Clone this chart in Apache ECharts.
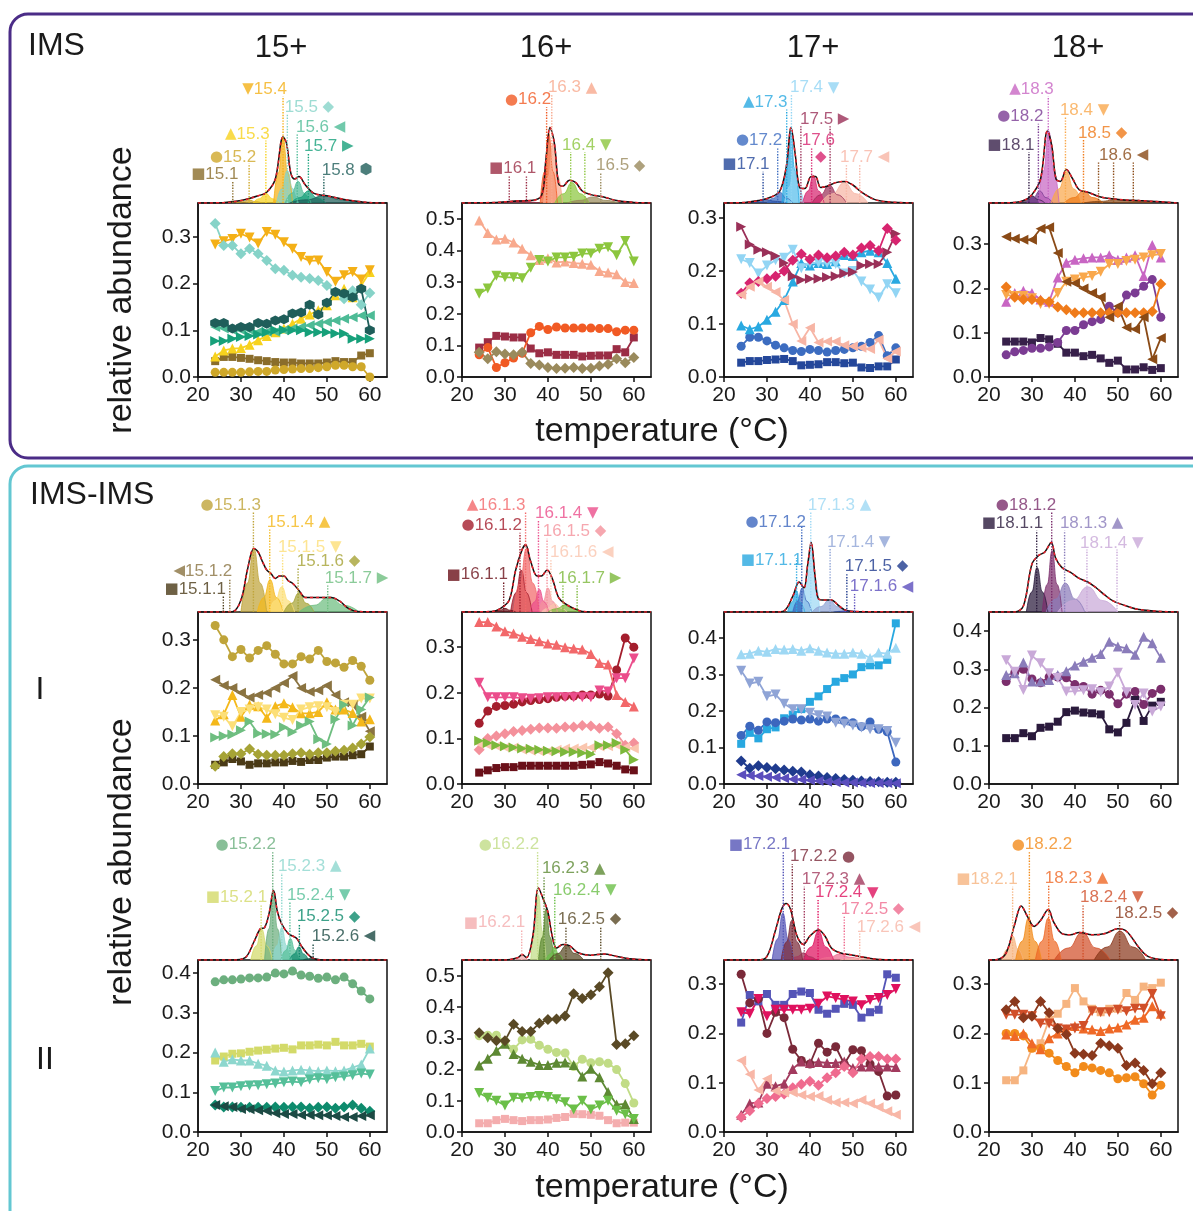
<!DOCTYPE html>
<html><head><meta charset="utf-8">
<script src="https://cdn.jsdelivr.net/npm/echarts@6/dist/echarts.min.js"></script>
<style>html,body{margin:0;padding:0;background:#fff}#c{width:1193px;height:1211px}</style>
</head><body><div id="c"></div>
<script>
// ---------------- DATA ----------------
const temps = [24,26,28,30,32,34,36,38,40,42,44,46,48,50,52,54,56,58,60];

// IMS 15+
const n15 = ['15.1','15.2','15.3','15.4','15.5','15.6','15.7','15.8'];
const v15 = [
 [0.034,0.043,0.043,0.041,0.039,0.036,0.034,0.032,0.031,0.031,0.029,0.029,0.029,0.031,0.034,0.032,0.032,0.046,0.051],
 [0.01,0.01,0.01,0.01,0.011,0.012,0.012,0.015,0.016,0.017,0.018,0.018,0.02,0.022,0.025,0.025,0.022,0.022,0.0],
 [0.044,0.057,0.061,0.062,0.069,0.079,0.088,0.096,0.104,0.114,0.125,0.134,0.143,0.154,0.175,0.189,0.171,0.196,0.225],
 [0.284,0.291,0.296,0.307,0.299,0.286,0.311,0.305,0.289,0.275,0.257,0.249,0.25,0.225,0.204,0.218,0.225,0.209,0.229],
 [0.329,0.282,0.282,0.264,0.275,0.264,0.25,0.232,0.229,0.218,0.214,0.211,0.207,0.196,0.182,0.168,0.185,0.155,0.18],
 [0.107,0.104,0.1,0.1,0.1,0.097,0.097,0.097,0.1,0.104,0.107,0.111,0.114,0.118,0.121,0.125,0.128,0.132,0.132],
 [0.077,0.077,0.082,0.086,0.088,0.091,0.096,0.1,0.101,0.1,0.1,0.096,0.096,0.096,0.093,0.093,0.082,0.082,0.082],
 [0.116,0.116,0.104,0.107,0.107,0.116,0.114,0.121,0.124,0.136,0.138,0.155,0.134,0.159,0.182,0.179,0.171,0.189,0.1]
];
// IMS 16+
const n16 = ['16.1','16.2','16.3','16.4','16.5'];
const v16 = [
 [0.093,0.11,0.13,0.128,0.125,0.125,0.09,0.075,0.078,0.07,0.07,0.07,0.065,0.067,0.068,0.068,0.088,0.078,0.125],
 [0.07,0.093,0.03,0.045,0.06,0.075,0.14,0.16,0.15,0.158,0.155,0.155,0.155,0.155,0.153,0.153,0.143,0.148,0.148],
 [0.495,0.455,0.435,0.437,0.425,0.405,0.385,0.37,0.375,0.362,0.365,0.36,0.358,0.355,0.335,0.33,0.325,0.3,0.297],
 [0.263,0.28,0.32,0.315,0.315,0.312,0.345,0.37,0.365,0.378,0.378,0.38,0.39,0.39,0.405,0.41,0.385,0.43,0.365],
 [0.078,0.058,0.08,0.073,0.07,0.078,0.043,0.038,0.03,0.027,0.028,0.03,0.027,0.028,0.035,0.04,0.058,0.045,0.062]
];
// IMS 17+
const n17 = ['17.1','17.2','17.3','17.4','17.5','17.6','17.7'];
const v17 = [
 [0.027,0.03,0.03,0.032,0.033,0.034,0.03,0.022,0.023,0.024,0.028,0.028,0.026,0.027,0.018,0.017,0.02,0.02,0.033],
 [0.058,0.075,0.075,0.068,0.06,0.055,0.05,0.048,0.052,0.05,0.047,0.05,0.052,0.055,0.058,0.065,0.078,0.04,0.055],
 [0.097,0.09,0.095,0.108,0.123,0.145,0.18,0.215,0.21,0.215,0.213,0.218,0.23,0.228,0.235,0.238,0.235,0.215,0.185],
 [0.222,0.215,0.195,0.21,0.22,0.225,0.24,0.205,0.215,0.215,0.215,0.213,0.195,0.2,0.18,0.165,0.15,0.175,0.158],
 [0.283,0.25,0.24,0.235,0.228,0.215,0.19,0.183,0.185,0.185,0.188,0.19,0.195,0.198,0.21,0.213,0.213,0.235,0.27],
 [0.158,0.177,0.18,0.185,0.19,0.2,0.22,0.232,0.222,0.23,0.225,0.228,0.235,0.23,0.243,0.248,0.238,0.28,0.258],
 [0.155,0.17,0.18,0.17,0.16,0.145,0.1,0.068,0.093,0.065,0.067,0.067,0.06,0.058,0.055,0.053,0.07,0.035,0.048]
];
// IMS 18+
const n18 = ['18.1','18.2','18.3','18.4','18.5','18.6'];
const v18 = [
 [0.08,0.08,0.08,0.078,0.088,0.085,0.075,0.055,0.055,0.047,0.05,0.042,0.032,0.037,0.017,0.017,0.022,0.016,0.02],
 [0.05,0.057,0.06,0.065,0.065,0.068,0.078,0.105,0.105,0.118,0.125,0.13,0.16,0.145,0.185,0.19,0.205,0.22,0.135],
 [0.17,0.19,0.195,0.19,0.175,0.17,0.225,0.258,0.265,0.268,0.27,0.27,0.275,0.265,0.27,0.275,0.228,0.298,0.27],
 [0.185,0.183,0.183,0.178,0.165,0.165,0.19,0.215,0.22,0.225,0.228,0.238,0.255,0.255,0.262,0.265,0.27,0.275,0.278],
 [0.203,0.18,0.175,0.175,0.172,0.17,0.158,0.152,0.145,0.145,0.145,0.145,0.145,0.145,0.145,0.145,0.145,0.148,0.21],
 [0.317,0.312,0.31,0.31,0.335,0.338,0.28,0.215,0.212,0.2,0.19,0.18,0.135,0.16,0.112,0.108,0.135,0.04,0.088]
];
// IMS-IMS I 15+
const n151 = ['15.1.1','15.1.2','15.1.3','15.1.4','15.1.5','15.1.6','15.1.7'];
const v151 = [
 [0.04,0.045,0.052,0.047,0.04,0.043,0.043,0.045,0.045,0.048,0.046,0.05,0.05,0.055,0.057,0.057,0.06,0.062,0.078],
 [0.217,0.205,0.2,0.19,0.18,0.185,0.19,0.2,0.21,0.225,0.2,0.192,0.195,0.205,0.185,0.17,0.165,0.14,0.11],
 [0.33,0.3,0.265,0.28,0.262,0.278,0.288,0.27,0.25,0.25,0.265,0.26,0.278,0.255,0.252,0.243,0.257,0.245,0.216],
 [0.132,0.145,0.185,0.14,0.165,0.162,0.138,0.162,0.168,0.16,0.147,0.147,0.15,0.17,0.155,0.155,0.148,0.13,0.135],
 [0.143,0.14,0.12,0.15,0.155,0.16,0.155,0.145,0.138,0.133,0.155,0.16,0.162,0.16,0.15,0.165,0.165,0.178,0.178],
 [0.037,0.057,0.063,0.063,0.073,0.062,0.06,0.06,0.06,0.063,0.065,0.062,0.065,0.065,0.068,0.07,0.075,0.083,0.098],
 [0.097,0.1,0.103,0.112,0.13,0.105,0.104,0.103,0.118,0.108,0.122,0.13,0.093,0.083,0.135,0.165,0.122,0.155,0.18]
];
// IMS-IMS I 16+
const n161 = ['16.1.1','16.1.2','16.1.3','16.1.4','16.1.5','16.1.6','16.1.7'];
const v161 = [
 [0.025,0.03,0.035,0.037,0.037,0.04,0.04,0.04,0.04,0.04,0.04,0.04,0.042,0.043,0.048,0.045,0.04,0.032,0.03],
 [0.133,0.16,0.17,0.172,0.175,0.18,0.183,0.185,0.187,0.19,0.192,0.193,0.195,0.195,0.197,0.193,0.25,0.32,0.3],
 [0.355,0.355,0.345,0.335,0.33,0.323,0.318,0.313,0.308,0.305,0.3,0.297,0.295,0.285,0.265,0.262,0.195,0.18,0.17],
 [0.222,0.19,0.19,0.19,0.19,0.188,0.187,0.188,0.19,0.19,0.19,0.19,0.19,0.19,0.205,0.203,0.232,0.232,0.275],
 [0.075,0.1,0.105,0.11,0.115,0.117,0.12,0.123,0.123,0.122,0.125,0.125,0.128,0.127,0.122,0.125,0.11,0.085,0.09],
 [0.088,0.085,0.083,0.08,0.08,0.075,0.073,0.072,0.072,0.075,0.078,0.078,0.08,0.08,0.082,0.083,0.085,0.08,0.078],
 [0.095,0.09,0.085,0.083,0.08,0.078,0.077,0.075,0.073,0.072,0.07,0.07,0.068,0.065,0.085,0.085,0.09,0.075,0.053]
];
// IMS-IMS I 17+
const n171 = ['17.1.1','17.1.2','17.1.3','17.1.4','17.1.5','17.1.6'];
const v171 = [
 [0.11,0.14,0.125,0.15,0.155,0.18,0.19,0.205,0.225,0.24,0.26,0.28,0.29,0.3,0.32,0.325,0.325,0.34,0.44],
 [0.133,0.158,0.147,0.17,0.168,0.172,0.178,0.175,0.178,0.172,0.178,0.178,0.173,0.168,0.157,0.17,0.15,0.143,0.06],
 [0.355,0.357,0.365,0.362,0.37,0.368,0.37,0.365,0.372,0.365,0.36,0.357,0.357,0.36,0.357,0.345,0.36,0.357,0.373],
 [0.31,0.275,0.28,0.24,0.245,0.22,0.205,0.205,0.195,0.188,0.185,0.168,0.165,0.16,0.155,0.15,0.15,0.145,0.113],
 [0.063,0.043,0.05,0.045,0.042,0.038,0.035,0.033,0.025,0.022,0.018,0.015,0.012,0.01,0.008,0.007,0.006,0.005,0.005],
 [0.025,0.023,0.022,0.02,0.018,0.016,0.013,0.012,0.01,0.008,0.006,0.005,0.004,0.004,0.003,0.003,0.003,0.003,0.002]
];
// IMS-IMS I 18+
const n181 = ['18.1.1','18.1.2','18.1.3','18.1.4'];
const v181 = [
 [0.12,0.12,0.133,0.125,0.147,0.15,0.163,0.188,0.192,0.187,0.185,0.182,0.143,0.135,0.16,0.22,0.165,0.205,0.215],
 [0.268,0.292,0.3,0.275,0.265,0.28,0.28,0.278,0.26,0.255,0.235,0.245,0.235,0.21,0.235,0.242,0.208,0.237,0.248],
 [0.285,0.29,0.318,0.268,0.268,0.272,0.285,0.295,0.31,0.32,0.33,0.34,0.372,0.36,0.355,0.338,0.385,0.368,0.33],
 [0.324,0.294,0.246,0.336,0.316,0.29,0.277,0.242,0.243,0.245,0.248,0.24,0.255,0.291,0.24,0.207,0.237,0.19,0.203]
];
// IMS-IMS II 15+
const n152 = ['15.2.1','15.2.2','15.2.3','15.2.4','15.2.5','15.2.6'];
const v152 = [
 [0.18,0.19,0.197,0.198,0.202,0.205,0.207,0.21,0.212,0.208,0.218,0.218,0.22,0.218,0.227,0.218,0.218,0.222,0.215],
 [0.378,0.383,0.383,0.385,0.388,0.388,0.39,0.4,0.398,0.405,0.395,0.392,0.387,0.39,0.383,0.39,0.373,0.355,0.335],
 [0.2,0.177,0.183,0.18,0.18,0.172,0.167,0.155,0.152,0.155,0.157,0.155,0.153,0.155,0.153,0.155,0.162,0.17,0.21],
 [0.103,0.112,0.112,0.115,0.117,0.118,0.12,0.122,0.125,0.127,0.125,0.132,0.135,0.133,0.138,0.14,0.143,0.147,0.145],
 [0.068,0.063,0.063,0.062,0.062,0.062,0.062,0.063,0.062,0.063,0.063,0.06,0.062,0.063,0.06,0.063,0.068,0.06,0.052],
 [0.068,0.065,0.063,0.058,0.057,0.055,0.053,0.047,0.045,0.045,0.043,0.043,0.042,0.042,0.04,0.038,0.038,0.04,0.042]
];
// IMS-IMS II 16+
const n162 = ['16.2.1','16.2.2','16.2.3','16.2.4','16.2.5'];
const v162 = [
 [0.028,0.028,0.038,0.042,0.038,0.035,0.038,0.038,0.04,0.045,0.048,0.058,0.057,0.055,0.052,0.038,0.028,0.03,0.03],
 [0.308,0.31,0.31,0.29,0.265,0.295,0.297,0.278,0.265,0.255,0.253,0.21,0.233,0.222,0.225,0.22,0.2,0.155,0.093],
 [0.213,0.235,0.26,0.283,0.25,0.235,0.225,0.215,0.215,0.222,0.223,0.215,0.178,0.203,0.175,0.128,0.088,0.09,0.042],
 [0.125,0.11,0.1,0.085,0.11,0.108,0.112,0.115,0.112,0.105,0.095,0.072,0.1,0.072,0.085,0.1,0.068,0.057,0.042],
 [0.318,0.302,0.292,0.292,0.345,0.322,0.322,0.348,0.36,0.362,0.372,0.443,0.428,0.44,0.465,0.51,0.28,0.283,0.308]
];
// IMS-IMS II 17+
const n172 = ['17.2.1','17.2.2','17.2.3','17.2.4','17.2.5','17.2.6'];
const v172 = [
 [0.222,0.278,0.265,0.28,0.258,0.258,0.28,0.285,0.282,0.248,0.24,0.25,0.26,0.258,0.232,0.243,0.248,0.32,0.313],
 [0.32,0.262,0.27,0.2,0.243,0.232,0.168,0.145,0.138,0.18,0.162,0.173,0.138,0.167,0.165,0.138,0.123,0.073,0.075],
 [0.035,0.058,0.06,0.098,0.093,0.098,0.128,0.143,0.14,0.142,0.14,0.14,0.143,0.13,0.133,0.133,0.133,0.133,0.132],
 [0.243,0.24,0.27,0.235,0.248,0.248,0.248,0.248,0.25,0.26,0.275,0.272,0.268,0.265,0.257,0.268,0.272,0.278,0.29],
 [0.03,0.043,0.058,0.068,0.072,0.077,0.09,0.097,0.103,0.095,0.11,0.12,0.133,0.12,0.148,0.153,0.153,0.148,0.148],
 [0.145,0.117,0.085,0.108,0.083,0.08,0.08,0.075,0.072,0.073,0.065,0.06,0.06,0.058,0.065,0.058,0.05,0.042,0.035]
];
// IMS-IMS II 18+
const n182 = ['18.2.1','18.2.2','18.2.3','18.2.4','18.2.5'];
const v182 = [
 [0.105,0.105,0.125,0.17,0.18,0.228,0.24,0.26,0.292,0.265,0.25,0.243,0.25,0.25,0.282,0.268,0.295,0.292,0.303],
 [0.2,0.2,0.195,0.17,0.17,0.16,0.145,0.133,0.12,0.133,0.13,0.125,0.12,0.108,0.11,0.112,0.098,0.075,0.095],
 [0.198,0.195,0.2,0.18,0.168,0.19,0.2,0.208,0.215,0.21,0.208,0.205,0.21,0.212,0.218,0.228,0.232,0.255,0.24],
 [0.238,0.238,0.238,0.235,0.22,0.22,0.21,0.208,0.21,0.215,0.245,0.243,0.243,0.248,0.245,0.25,0.25,0.28,0.235],
 [0.248,0.265,0.232,0.235,0.265,0.242,0.21,0.198,0.16,0.158,0.155,0.18,0.175,0.17,0.135,0.14,0.125,0.098,0.12]
];

const pk15 = [
 [[25.1,0],[26.6,0.007],[28.1,0.015],[29.6,0.007],[31.1,0]],
 [[28.9,0],[30.4,0.011],[31.9,0.025],[33.4,0.011],[34.9,0]],
 [[32.8,0],[34.3,0.036],[35.8,0.08],[37.3,0.036],[38.8,0]],
 [[37.6,0],[38.7,0.25],[39.8,0.55],[40.9,0.25],[42,0]],
 [[38.3,0],[39.55,0.12],[40.8,0.27],[42.05,0.12],[43.3,0]],
 [[40.3,0],[41.8,0.08],[43.3,0.18],[44.8,0.08],[46.3,0]],
 [[41.7,0],[43.7,0.045],[45.7,0.1],[47.7,0.045],[49.7,0]],
 [[41.3,0],[45.3,0.027],[49.3,0.06],[53.3,0.027],[57.3,0]]
];
const e15 = [[20,0],[26,0.003],[30,0.02],[34,0.06],[36,0.09],[38,0.2],[39.8,0.55],[40.6,0.5],[41.6,0.25],[42.5,0.2],[43.5,0.22],[45,0.15],[47,0.08],[50,0.06],[54,0.03],[58,0.01],[62,0],[64,0]];
const pk16 = [
 [[28,0],[30.5,0.009],[33,0.02],[35.5,0.009],[38,0]],
 [[38.2,0],[39.2,0.26],[40.2,0.58],[41.2,0.26],[42.2,0]],
 [[39,0],[40.1,0.22],[41.2,0.5],[42.3,0.22],[43.4,0]],
 [[41.6,0],[43.6,0.077],[45.6,0.17],[47.6,0.077],[49.6,0]],
 [[44.5,0],[47.5,0.022],[50.5,0.05],[53.5,0.022],[56.5,0]]
];
const e16 = [[20,0],[28,0.005],[32,0.015],[36,0.02],[38.5,0.06],[39.5,0.35],[40.5,0.63],[41.5,0.5],[42.5,0.16],[43.5,0.14],[45,0.19],[46.5,0.17],[48,0.1],[50,0.07],[53,0.05],[56,0.02],[60,0.005],[64,0]];
const pk17 = [
 [[24.5,0],[27,0.014],[29.5,0.03],[32,0.014],[34.5,0]],
 [[30,0],[31.5,0.04],[33,0.09],[34.5,0.04],[36,0]],
 [[33.5,0],[34.5,0.27],[35.5,0.6],[36.5,0.27],[37.5,0]],
 [[34.1,0],[35.2,0.135],[36.3,0.3],[37.4,0.135],[38.5,0]],
 [[40.5,0],[42.5,0.068],[44.5,0.15],[46.5,0.068],[48.5,0]],
 [[38.3,0],[39.55,0.1],[40.8,0.23],[42.05,0.1],[43.3,0]],
 [[42.5,0],[45.25,0.077],[48,0.17],[50.75,0.077],[53.5,0]]
];
const e17 = [[20,0],[25,0.005],[28,0.02],[31,0.05],[33,0.1],[34.5,0.3],[35.6,0.63],[36.6,0.4],[37.6,0.13],[38.8,0.12],[40.3,0.22],[41.3,0.22],[42.5,0.13],[44,0.14],[46,0.17],[48,0.18],[50,0.15],[52,0.09],[55,0.03],[58,0.01],[64,0]];
const pk18 = [
 [[27,0],[28.5,0.027],[30,0.06],[31.5,0.027],[33,0]],
 [[28.8,0],[30.3,0.045],[31.8,0.1],[33.3,0.045],[34.8,0]],
 [[31.5,0],[32.7,0.27],[33.9,0.6],[35.1,0.27],[36.3,0]],
 [[34.5,0],[36.25,0.117],[38,0.26],[39.75,0.117],[41.5,0]],
 [[37.5,0],[39.75,0.045],[42,0.1],[44.25,0.045],[46.5,0]],
 [[42,0],[46,0.014],[50,0.03],[54,0.014],[58,0]]
];
const e18 = [[20,0],[25,0.003],[28,0.02],[30,0.07],[32,0.2],[33.6,0.6],[34.6,0.48],[35.6,0.2],[36.6,0.18],[38,0.28],[39.5,0.2],[41,0.11],[43,0.09],[46,0.05],[50,0.03],[55,0.02],[60,0.01],[64,0]];
const pk151 = [
 [[24,0],[25,0.002],[26,0.005],[27,0.002],[28,0]],
 [[25.5,0],[26.5,0.002],[27.5,0.005],[28.5,0.002],[29.5,0]],
 [[30,0],[31.5,0.24],[33,0.53],[34.5,0.24],[36,0]],
 [[33.8,0],[35.3,0.12],[36.8,0.27],[38.3,0.12],[39.8,0]],
 [[36.5,0],[38,0.095],[39.5,0.21],[41,0.095],[42.5,0]],
 [[40,0],[41.75,0.072],[43.5,0.16],[45.25,0.072],[47,0]],
 [[43.5,0],[47,0.056],[50.5,0.125],[54,0.056],[57.5,0]]
];
const e151 = [[20,0],[28,0.003],[30,0.1],[31.5,0.35],[33,0.53],[34,0.5],[35,0.42],[36,0.35],[37,0.32],[38,0.28],[39,0.3],[40,0.3],[41,0.26],[42,0.24],[43.5,0.18],[45,0.12],[47,0.12],[49,0.12],[51,0.12],[53,0.09],[55,0.03],[57,0.005],[64,0]];
const pk161 = [
 [[27.5,0],[28.75,0.014],[30,0.03],[31.25,0.014],[32.5,0]],
 [[31.3,0],[32.55,0.16],[33.8,0.35],[35.05,0.16],[36.3,0]],
 [[32,0],[33.5,0.24],[35,0.53],[36.5,0.24],[38,0]],
 [[35.8,0],[36.9,0.085],[38,0.19],[39.1,0.085],[40.2,0]],
 [[37.8,0],[38.9,0.09],[40,0.2],[41.1,0.09],[42.2,0]],
 [[38.5,0],[40,0.032],[41.5,0.07],[43,0.032],[44.5,0]],
 [[40,0],[42,0.027],[44,0.06],[46,0.027],[48,0]]
];
const e161 = [[20,0],[27,0.005],[29,0.03],[31,0.1],[32.5,0.35],[34,0.52],[34.8,0.56],[36,0.42],[37.5,0.3],[38.5,0.3],[39.8,0.35],[41,0.28],[42.5,0.12],[44,0.07],[46,0.03],[48,0.005],[52,0],[64,0]];
const pk171 = [
 [[34.8,0],[35.8,0.08],[36.8,0.18],[37.8,0.08],[38.8,0]],
 [[36,0],[37.1,0.09],[38.2,0.2],[39.3,0.09],[40.4,0]],
 [[38.3,0],[39.3,0.25],[40.3,0.56],[41.3,0.25],[42.3,0]],
 [[40.5,0],[42.5,0.045],[44.5,0.1],[46.5,0.045],[48.5,0]],
 [[45.5,0],[47,0.005],[48.5,0.01],[50,0.005],[51.5,0]],
 [[47,0],[48.5,0.003],[50,0.006],[51.5,0.003],[53,0]]
];
const e171 = [[20,0],[32,0],[34,0.01],[36,0.13],[37.5,0.25],[38.6,0.2],[39.5,0.4],[40.3,0.58],[41.2,0.3],[42,0.11],[43.5,0.1],[45,0.1],[46.5,0.06],[48,0.02],[50,0.005],[64,0]];
const pk181 = [
 [[28.7,0],[29.95,0.167],[31.2,0.37],[32.45,0.167],[33.7,0]],
 [[32.4,0],[33.55,0.23],[34.7,0.51],[35.85,0.23],[37,0]],
 [[33.3,0],[35.55,0.108],[37.8,0.24],[40.05,0.108],[42.3,0]],
 [[36,0],[39.5,0.095],[43,0.21],[46.5,0.095],[50,0]]
];
const e181 = [[20,0],[26,0],[28,0.05],[30,0.4],[31.5,0.47],[33,0.5],[34.5,0.58],[35.5,0.45],[37,0.37],[39,0.33],[41,0.28],[43,0.25],[45,0.2],[47,0.14],[49,0.09],[52,0.05],[55,0.02],[60,0.005],[64,0]];
const pk152 = [
 [[32.3,0],[33.55,0.117],[34.8,0.26],[36.05,0.117],[37.3,0]],
 [[35.5,0],[36.5,0.26],[37.5,0.58],[38.5,0.26],[39.5,0]],
 [[37.3,0],[38.4,0.12],[39.5,0.27],[40.6,0.12],[41.7,0]],
 [[39.3,0],[40.4,0.08],[41.5,0.18],[42.6,0.08],[43.7,0]],
 [[41.3,0],[42.4,0.05],[43.5,0.11],[44.6,0.05],[45.7,0]],
 [[44.5,0],[45.5,0.009],[46.5,0.02],[47.5,0.009],[48.5,0]]
];
const e152 = [[20,0],[28,0],[31,0.02],[33,0.15],[34.5,0.26],[35.5,0.27],[36.5,0.38],[37.6,0.58],[38.5,0.4],[39.5,0.3],[41,0.22],[42,0.2],[43,0.18],[44,0.12],[45.5,0.05],[47,0.01],[49,0],[64,0]];
const pk162 = [
 [[32.3,0],[33.05,0.018],[33.8,0.04],[34.55,0.018],[35.3,0]],
 [[36,0],[36.9,0.24],[37.8,0.54],[38.7,0.24],[39.6,0]],
 [[37.8,0],[38.7,0.19],[39.6,0.43],[40.5,0.19],[41.4,0]],
 [[39.5,0],[40.5,0.05],[41.5,0.11],[42.5,0.05],[43.5,0]],
 [[40.3,0],[42.3,0.054],[44.3,0.12],[46.3,0.054],[48.3,0]]
];
const e162 = [[20,0],[30,0],[33,0.02],[34,0.045],[35,0.02],[36.5,0.2],[37.8,0.6],[39,0.5],[40,0.4],[41,0.2],[42,0.1],[43.5,0.13],[45,0.12],[47,0.06],[50,0.04],[53,0.05],[56,0.03],[59,0.01],[64,0]];
const pk172 = [
 [[31.2,0],[32.45,0.175],[33.7,0.39],[34.95,0.175],[36.2,0]],
 [[33.3,0],[34.55,0.15],[35.8,0.33],[37.05,0.15],[38.3,0]],
 [[35.5,0],[37,0.027],[38.5,0.06],[40,0.027],[41.5,0]],
 [[38.5,0],[40.25,0.108],[42,0.24],[43.75,0.108],[45.5,0]],
 [[42,0],[44.5,0.022],[47,0.05],[49.5,0.022],[52,0]],
 [[47,0],[49.5,0.009],[52,0.02],[54.5,0.009],[57,0]]
];
const e172 = [[20,0],[28,0],[30,0.03],[32,0.25],[33.5,0.43],[34.5,0.47],[35.5,0.42],[37,0.2],[38.5,0.13],[40,0.2],[42,0.25],[43.5,0.2],[45,0.1],[47,0.06],[50,0.04],[53,0.02],[56,0.005],[64,0]];
const pk182 = [
 [[23,0],[24.25,0.09],[25.5,0.2],[26.75,0.09],[28,0]],
 [[26.2,0],[27.7,0.157],[29.2,0.35],[30.7,0.157],[32.2,0]],
 [[30.8,0],[32.3,0.157],[33.8,0.35],[35.3,0.157],[36.8,0]],
 [[35.2,0],[38.45,0.1],[41.7,0.23],[44.95,0.1],[48.2,0]],
 [[44.5,0],[47.5,0.108],[50.5,0.24],[53.5,0.108],[56.5,0]]
];
const e182 = [[20,0],[22,0.005],[24,0.06],[26,0.3],[27.5,0.45],[29,0.36],[30.5,0.28],[32,0.33],[33.8,0.42],[35,0.32],[37,0.22],[39,0.21],[41,0.23],[44,0.21],[47,0.22],[50,0.26],[52,0.24],[55,0.1],[57,0.03],[60,0.005],[64,0]];

// ---------------- STYLE / LAYOUT ----------------
const FONT = "'Liberation Sans', Arial, sans-serif";
const c15 = ['#8A6D2B','#CFA82A','#F7D21E','#F4B016','#86D3C8','#4DBB96','#16A07A','#1F5E5A'];
const c16 = ['#9B2D45','#F15A24','#F8A98D','#8CC63E','#9A8A5C'];
const c17 = ['#24479A','#3C6CC0','#29A9E1','#92D5F4','#9A3058','#D7246F','#F7B5A5'];
const c18 = ['#37204A','#7B3C93','#C866C3','#F9A84C','#EF7B1A','#8A4A16'];
const c151 = ['#4A3A16','#8A7341','#BFA43A','#F4B81A','#FCDF78','#A6A336','#6EBE80'];
const c161 = ['#6A1019','#A41E2D','#F2686A','#EB4D8B','#F4919B','#FAC6AF','#7CB83B'];
const c171 = ['#28A8E0','#3C67BE','#9ED8F4','#8FA4D6','#1F3B8E','#5B4EBD'];
const c181 = ['#2A1A3C','#7B2E6C','#8A7CBA','#C9A9D8'];
const c152 = ['#D3DA69','#6CAF7E','#8DD7CE','#55BF99','#0E8B6D','#1C4A44'];
const c162 = ['#F4ADAE','#C1DC86','#5D8933','#6BBF48','#594925'];
const c172 = ['#5555B7','#7A2939','#A23A5E','#DF115E','#EF6B8F','#F8B7A7'];
const c182 = ['#F6B480','#F28B1B','#EF6927','#D14F29','#8B391D'];

const s15 = ['sq','ci','up','dn','di','lt','rt','hx'];
const s16 = ['sq','ci','up','dn','di'];
const s17 = ['sq','ci','up','dn','rt','di','lt'];
const s18 = ['sq','ci','up','dn','di','lt'];
const s151 = ['sq','lt','ci','up','dn','di','rt'];
const s161 = ['sq','ci','up','dn','di','lt','rt'];
const s171 = ['sq','ci','up','dn','di','lt'];
const s181 = ['sq','ci','up','dn'];
const s152 = ['sq','ci','up','dn','di','lt'];
const s162 = ['sq','ci','up','dn','di'];
const s172 = ['sq','ci','up','dn','di','lt'];
const s182 = ['sq','ci','up','dn','di'];

// inset label layout: [series index, glyph side, x, y, dotted line xs, line top]
const l15 = [[0,'L',18.4,0.24,[28.1],0.18],[1,'L',22.8,0.38,[31.9],0.33],[2,'L',26.3,0.575,[35.8],0.52],[3,'L',30.3,0.95,[39.8],0.89],[4,'R',40.2,0.8,[40.8],0.74],[5,'R',42.8,0.63,[43.1],0.575],[6,'R',44.7,0.47,[45.7],0.41],[7,'R',48.8,0.275,[49.3],0.22]];
const l16 = [[0,'L',26.3,0.29,[31.0,35.0],0.23],[1,'L',30.0,0.86,[39.7],0.8],[2,'R',40.0,0.96,[40.9],0.9],[3,'R',43.3,0.48,[45.3,48.6],0.425],[4,'R',51.2,0.31,[52.3],0.25]];
const l17 = [[0,'L',19.6,0.32,[29.1],0.26],[1,'L',22.8,0.52,[32.5],0.46],[2,'L',24.4,0.84,[34.6],0.78],[3,'R',35.35,0.96,[35.7],0.9],[4,'R',37.7,0.7,[37.9,44.7],0.64],[5,'N',38.1,0.52,[40.4],0.46],[5,'G',41.2,0.38,[],0],[6,'R',47.0,0.38,[48.5,51.6],0.325]];
const l18 = [[0,'L',19.6,0.48,[29.3],0.425],[1,'L',21.9,0.72,[31.5],0.66],[2,'L',24.7,0.95,[33.8],0.89],[3,'R',36.5,0.775,[37.8],0.72],[4,'R',40.7,0.58,[42.0],0.525],[5,'R',45.6,0.4,[45.5,49.0,53.6],0.34]];
const l151 = [[0,'L',12.2,0.19,[25.9],0.13],[1,'L',14.3,0.34,[27.4],0.28],[2,'L',20.6,0.89,[32.9],0.83],[3,'R',36.0,0.75,[36.7],0.69],[4,'R',38.6,0.54,[39.7],0.48],[5,'R',43.0,0.425,[43.3],0.37],[6,'R',49.5,0.28,[50.2],0.225]];
const l161 = [[0,'L',16.4,0.31,[29.7],0.25],[1,'L',19.9,0.72,[33.5],0.66],[2,'L',21.1,0.89,[34.8],0.83],[3,'R',37.0,0.825,[37.8],0.77],[4,'R',38.8,0.67,[39.8],0.61],[5,'R',40.5,0.5,[40.7],0.44],[6,'R',42.3,0.28,[43.5,46.8],0.225]];
const l171 = [[0,'L',23.9,0.43,[36.9],0.45],[1,'L',25.0,0.75,[38.1],0.71],[2,'R',39.5,0.89,[40.2],0.83],[3,'R',43.95,0.58,[44.7],0.525],[4,'R',48.1,0.38,[48.6],0.325],[5,'R',49.3,0.21,[50.4],0.15]];
const l181 = [[0,'L',18.3,0.74,[31.1],0.68],[1,'L',21.6,0.89,[34.6],0.83],[2,'R',36.5,0.74,[37.6],0.68],[3,'R',41.2,0.575,[42.8,49.8],0.52]];
const l152 = [[0,'L',21.8,0.52,[34.7],0.46],[1,'L',24.1,0.96,[37.4],0.9],[2,'R',38.6,0.78,[39.5],0.725],[3,'R',40.7,0.54,[41.4],0.48],[4,'R',43.0,0.36,[43.6],0.3],[5,'R',46.5,0.2,[46.8],0.14]];
const l162 = [[0,'L',20.4,0.31,[33.9],0.25],[1,'L',23.9,0.96,[37.6],0.9],[2,'R',38.6,0.76,[39.1],0.7],[3,'R',41.2,0.58,[41.6],0.525],[4,'R',42.3,0.34,[44.2,52.3],0.28]];
const l172 = [[0,'L',21.1,0.96,[33.8],0.9],[1,'R',35.35,0.86,[35.9],0.8],[2,'R',38.1,0.67,[38.7],0.61],[3,'R',41.2,0.56,[41.9],0.5],[4,'R',47.2,0.42,[48.0],0.36],[5,'R',50.9,0.275,[51.6],0.22]];
const l182 = [[0,'L',12.4,0.67,[25.5],0.61],[1,'L',25.3,0.96,[29.4],0.9],[2,'R',33.0,0.68,[33.9],0.625],[3,'R',41.2,0.52,[41.9],0.46],[4,'R',49.3,0.39,[50.4],0.33]];

const panels = [
 {n:n15, v:v15, c:c15, s:s15, pk:pk15, e:e15, l:l15, ymax:0.373, col:0, row:0},
 {n:n16, v:v16, c:c16, s:s16, pk:pk16, e:e16, l:l16, ymax:0.55, col:1, row:0},
 {n:n17, v:v17, c:c17, s:s17, pk:pk17, e:e17, l:l17, ymax:0.328, col:2, row:0},
 {n:n18, v:v18, c:c18, s:s18, pk:pk18, e:e18, l:l18, ymax:0.393, col:3, row:0},
 {n:n151, v:v151, c:c151, s:s151, pk:pk151, e:e151, l:l151, ymax:0.358, col:0, row:1},
 {n:n161, v:v161, c:c161, s:s161, pk:pk161, e:e161, l:l161, ymax:0.377, col:1, row:1},
 {n:n171, v:v171, c:c171, s:s171, pk:pk171, e:e171, l:l171, ymax:0.471, col:2, row:1},
 {n:n181, v:v181, c:c181, s:s181, pk:pk181, e:e181, l:l181, ymax:0.45, col:3, row:1},
 {n:n152, v:v152, c:c152, s:s152, pk:pk152, e:e152, l:l152, ymax:0.433, col:0, row:2},
 {n:n162, v:v162, c:c162, s:s162, pk:pk162, e:e162, l:l162, ymax:0.551, col:1, row:2},
 {n:n172, v:v172, c:c172, s:s172, pk:pk172, e:e172, l:l172, ymax:0.349, col:2, row:2},
 {n:n182, v:v182, c:c182, s:s182, pk:pk182, e:e182, l:l182, ymax:0.349, col:3, row:2}
];
const colL = [198,462,724,989];
const rowT = [203,612,960];
const rowH = [174,172,172];
const W = 189, INSET = 120;

const HEX = 'path://M50,0 L93,25 L93,75 L50,100 L7,75 L7,25 Z';
const SYM = {
 sq:{symbol:'rect',size:8,rot:0}, ci:{symbol:'circle',size:9,rot:0}, up:{symbol:'triangle',size:10,rot:0},
 dn:{symbol:'triangle',size:10,rot:180}, di:{symbol:'diamond',size:11,rot:0}, lt:{symbol:'triangle',size:10,rot:90},
 rt:{symbol:'triangle',size:10,rot:-90}, hx:{symbol:HEX,size:10,rot:0}
};
const GLYPH = {sq:'■',ci:'●',up:'▲',dn:'▼',di:'◆',lt:'◀',rt:'▶',hx:'⬢'};

const grid=[], xAxis=[], yAxis=[], series=[];
const TICK = {fontSize:21, color:'#1a1a1a', fontFamily:FONT};

panels.forEach((p,i)=>{
  const L=colL[p.col], T=rowT[p.row], H=rowH[p.row];
  grid.push({left:L, top:T, width:W, height:H, show:true, borderColor:'#111', borderWidth:1.5, backgroundColor:'rgba(0,0,0,0)'});
  xAxis.push({gridIndex:i, type:'value', min:20, max:64, interval:10,
    axisLine:{show:true,onZero:false,lineStyle:{color:'#111',width:1.5}},
    axisTick:{show:true,length:5,lineStyle:{color:'#111',width:1.5}},
    splitLine:{show:false},
    axisLabel:Object.assign({margin:8, showMaxLabel:false, formatter:v=> (Math.abs(v%10)<1e-6 ? String(v) : '')}, TICK)});
  yAxis.push({gridIndex:i, type:'value', min:0, max:p.ymax, interval:0.1,
    axisLine:{show:true,onZero:false,lineStyle:{color:'#111',width:1.5}},
    axisTick:{show:true,length:5,lineStyle:{color:'#111',width:1.5}},
    splitLine:{show:false},
    axisLabel:Object.assign({margin:7, showMaxLabel:false, formatter:v=> (Math.abs(v*10-Math.round(v*10))<1e-6 ? v.toFixed(1) : '')}, TICK)});
});
panels.forEach((p,i)=>{
  const L=colL[p.col], T=rowT[p.row];
  grid.push({left:L, top:T-INSET, width:W, height:INSET, show:false});
  xAxis.push({gridIndex:12+i, type:'value', min:20, max:64, show:false});
  yAxis.push({gridIndex:12+i, type:'value', min:0, max:1, show:false});
});

panels.forEach((p,i)=>{
  p.v.forEach((arr,k)=>{
    const sp = SYM[p.s[k]];
    series.push({type:'line', name:p.n[k], xAxisIndex:i, yAxisIndex:i,
      data: temps.map((t,j)=>[t,arr[j]]),
      symbol:sp.symbol, symbolSize:sp.size, symbolRotate:sp.rot, showSymbol:true,
      lineStyle:{color:p.c[k], width:1.8}, itemStyle:{color:p.c[k]}, z:3, clip:false, animation:false});
  });
  const xi = 12+i;
  p.pk.forEach((pts,k)=>{
    series.push({type:'line', xAxisIndex:xi, yAxisIndex:xi, data:pts, smooth:0.5, smoothMonotone:'x', symbol:'none',
      lineStyle:{color:p.c[k], width:0.8}, areaStyle:{color:p.c[k], opacity:0.72}, z:2, silent:true, animation:false});
  });
  series.push({type:'line', xAxisIndex:xi, yAxisIndex:xi, data:p.e, smooth:0.35, symbol:'none',
    lineStyle:{color:'#111', width:1.5}, z:3, silent:true, animation:false});
  series.push({type:'line', xAxisIndex:xi, yAxisIndex:xi, data:p.e, smooth:0.35, symbol:'none',
    lineStyle:{color:'#E8202A', width:1.5, type:[3,3]}, z:3, silent:true, animation:false});
  const items = [];
  p.l.forEach(lb=>{
    const [k, side, x, y, lines, top] = lb;
    const col = p.c[k], g = GLYPH[p.s[k]];
    lines.forEach(lx=>{
      series.push({type:'line', xAxisIndex:xi, yAxisIndex:xi, data:[[lx,0],[lx,top]], symbol:'none',
        lineStyle:{color:col, width:1.4, type:'dotted'}, z:4, silent:true, animation:false});
    });
    let txt;
    if (side==='L') txt = '{g|'+g+'}'+p.n[k];
    else if (side==='R') txt = p.n[k]+' {g|'+g+'}';
    else if (side==='N') txt = p.n[k];
    else txt = '{g|'+g+'}';
    items.push({value:[x,y], label:{formatter:txt, color:col, fontSize:17, fontFamily:FONT,
      rich:{g:{fontFamily:'DejaVu Sans', fontSize:15, color:col}}}});
  });
  series.push({type:'scatter', xAxisIndex:xi, yAxisIndex:xi, symbolSize:0, clip:false, data:items, z:6, silent:true, animation:false,
    label:{show:true, position:'right', distance:0, fontSize:17, fontFamily:FONT}});
});

function txt(t,x,y,size,align,rot){
  return {type:'text', x:x, y:y, rotation:rot||0, z:10,
    style:{text:t, x:0, y:0, textAlign:align, align:align, textVerticalAlign:'middle', verticalAlign:'middle',
      font:size+'px '+FONT, fill:'#1a1a1a'}};
}
const graphic = [
 {type:'rect', shape:{x:10,y:14,width:1220,height:444,r:18}, style:{fill:'none',stroke:'#4B2C87',lineWidth:3}, z:1},
 {type:'rect', shape:{x:10,y:466,width:1220,height:800,r:18}, style:{fill:'none',stroke:'#63C7D2',lineWidth:3}, z:1},
 txt('IMS',28,46,32,'left'),
 txt('15+',281,48,31,'center'), txt('16+',546,48,31,'center'), txt('17+',813,48,31,'center'), txt('18+',1078,48,31,'center'),
 txt('relative abundance',122,290,34,'center',Math.PI/2),
 txt('temperature (°C)',662,432,34,'center'),
 txt('IMS-IMS',30,495,32,'left'),
 txt('I',40,690,32,'center'),
 txt('II',45,1060,32,'center'),
 txt('relative abundance',122,862,34,'center',Math.PI/2),
 txt('temperature (°C)',662,1188,34,'center')
];

const chart = echarts.init(document.getElementById('c'), null, {renderer:'canvas'});
chart.setOption({animation:false, backgroundColor:'#fff', grid, xAxis, yAxis, series, graphic});
</script></body></html>
